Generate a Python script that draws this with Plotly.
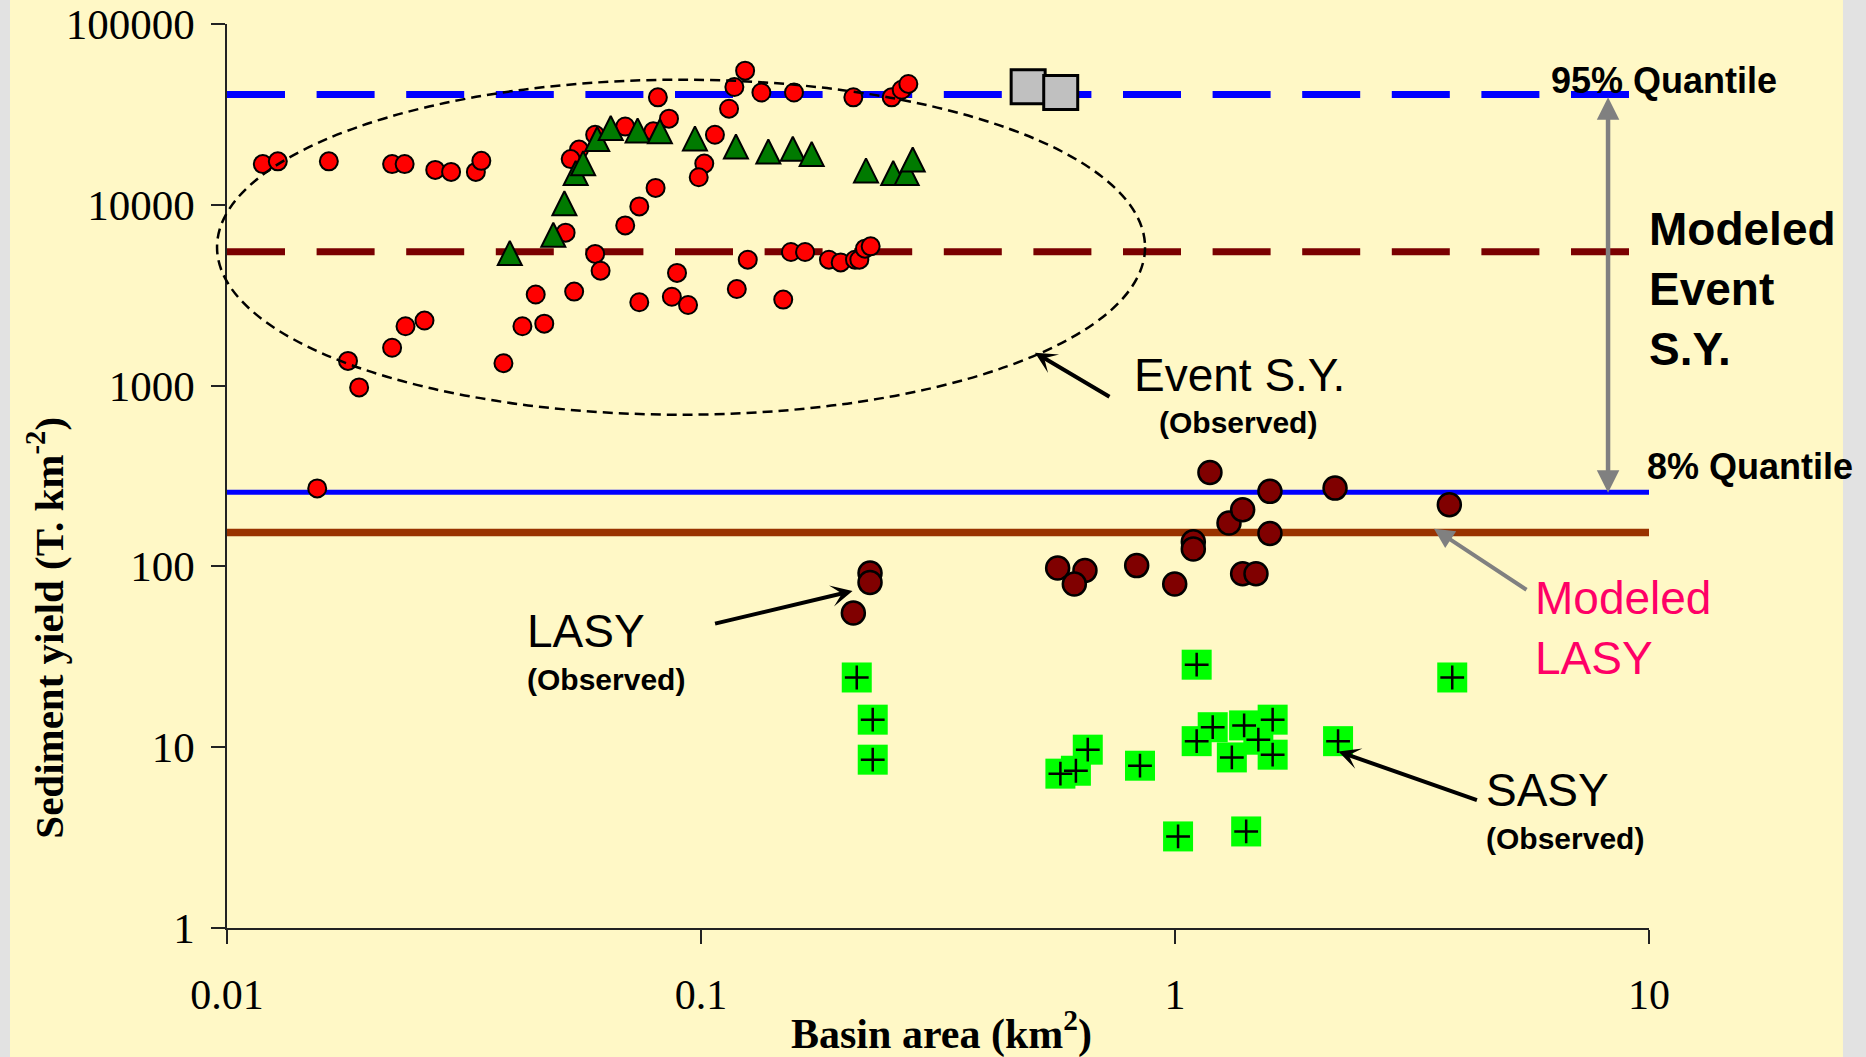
import plotly.graph_objects as go

# ---- Observed event sediment yield (T km-2) against basin area (km2) ----
event_area = [0.0119, 0.0128, 0.0164, 0.0223, 0.0237, 0.0275, 0.0297, 0.0335, 0.0344,
              0.0180, 0.0190, 0.0223, 0.0238, 0.0261, 0.0383, 0.0420, 0.0467, 0.0448,
              0.0155,
              0.0811, 0.0856, 0.0598, 0.0692, 0.0793, 0.0553, 0.0531, 0.1070, 0.1016,
              0.0989, 0.0802, 0.0741, 0.0692, 0.0518, 0.0598, 0.0614, 0.0890, 0.0540,
              0.0741, 0.0868, 0.0939,
              0.1239, 0.1176, 0.1146, 0.1341, 0.1571, 0.2096, 0.2525, 0.2651, 0.2738,
              0.1255, 0.1548, 0.1658, 0.1862, 0.1971, 0.2113, 0.2158, 0.2218, 0.2280,
              0.1190, 0.1491]
event_sy = [16800, 17400, 17400, 16800, 16800, 15600, 15200, 15200, 17500,
            1370, 977, 1620, 2130, 2290, 1330, 2130, 2200, 3190,
            270,
            39300, 29950, 24400, 27100, 25500, 20200, 17900, 24400, 16900,
            14200, 12400, 9800, 7690, 7010, 5350, 4320, 4200, 3310,
            2890, 3100, 2790,
            55200, 44800, 34000, 41800, 41800, 39300, 39300, 43300, 46600,
            4970, 5480, 5480, 4970, 4800, 4970, 4970, 5720, 5890,
            3420, 2990]

# second group of event observations (triangles)
event2_area = [0.0395, 0.0488, 0.0515, 0.0544, 0.0564, 0.0604, 0.0645, 0.0735, 0.0819,
               0.0971, 0.1185, 0.1387, 0.1562, 0.1712, 0.2229, 0.2544, 0.2716, 0.2797]
event2_sy = [5410, 6830, 10200, 15000, 17000, 23100, 26600, 25800, 25500,
             23300, 21000, 19700, 20400, 19100, 15500, 15000, 15000, 17800]

# third group of event observations (grey squares)
event3_area = [0.490, 0.574]
event3_sy = [44900, 41800]

# long-term average sediment yield, observed
lasy_area = [0.2273, 0.2273, 0.2096, 0.5655, 0.6457, 0.6132, 0.8302, 0.9986, 1.185,
             1.093, 1.093, 1.300, 1.389, 1.586, 1.586, 1.389, 1.482, 2.176, 3.791]
lasy_sy = [91.9, 81.5, 55.2, 98.0, 95.0, 79.9, 101, 79.9, 331,
           137, 125, 174, 206, 260, 152, 91.1, 91.1, 271, 219]

# short-term average sediment yield, observed
sasy_area = [0.2131, 0.2303, 0.2303, 1.111, 3.845, 0.5731, 0.6179, 0.6546, 0.8436, 1.111,
             1.201, 1.399, 1.607, 1.318, 1.499, 1.607, 2.208, 1.015, 1.413]
sasy_sy = [24.3, 14.2, 8.53, 28.6, 24.3, 7.14, 7.41, 9.69, 7.90, 10.8,
           12.9, 13.2, 14.2, 8.78, 11.0, 9.09, 10.8, 3.21, 3.42]

# modelled reference levels
q95_event = 40700      # 95% quantile of modelled event S.Y.
median_event = 5500    # central modelled event S.Y.
q08_event = 257        # 8% quantile of modelled event S.Y.
modeled_lasy = 154     # modelled LASY
area_span = [0.01, 10]

x_ticks = [0.01, 0.1, 1, 10]
x_ticktext = ["0.01", "0.1", "1", "10"]
y_ticks = [1, 10, 100, 1000, 10000, 100000]
y_ticktext = ["1", "10", "100", "1000", "10000", "100000"]

BG = "#FFF8C6"
SERIF = "Liberation Serif"
SANS = "Liberation Sans"

fig = go.Figure()


def hline(level, color, width, dash="solid"):
    fig.add_trace(go.Scatter(x=area_span, y=[level, level], mode="lines",
                             line=dict(color=color, width=width, dash=dash),
                             hoverinfo="skip"))


hline(q95_event, "#0000FF", 7, "58px,31.6px")
hline(median_event, "#7A0000", 7, "58px,31.6px")
hline(q08_event, "#0000FF", 5)
hline(modeled_lasy, "#993300", 7.5)

fig.add_trace(go.Scatter(x=event_area, y=event_sy, mode="markers",
                         marker=dict(symbol="circle", size=18, color="#FF0000",
                                     line=dict(color="black", width=2))))
fig.add_trace(go.Scatter(x=event2_area, y=event2_sy, mode="markers",
                         marker=dict(symbol="arrow-down", angle=180, standoff=12, size=24,
                                     color="#007A00", line=dict(color="black", width=2))))
fig.add_trace(go.Scatter(x=event3_area, y=event3_sy, mode="markers",
                         marker=dict(symbol="square", size=34, color="#C0C0C0",
                                     line=dict(color="black", width=3))))
fig.add_trace(go.Scatter(x=lasy_area, y=lasy_sy, mode="markers",
                         marker=dict(symbol="circle", size=23, color="#800000",
                                     line=dict(color="black", width=2.5))))
fig.add_trace(go.Scatter(x=sasy_area, y=sasy_sy, mode="markers",
                         marker=dict(symbol="square", size=30, color="#00FF00",
                                     line=dict(width=0))))
fig.add_trace(go.Scatter(x=sasy_area, y=sasy_sy, mode="markers",
                         marker=dict(symbol="cross-thin", size=17, color="black",
                                     line=dict(color="black", width=2.5))))

annotations = []


def label(text, x, y, size, color="black", bold=False, xanchor="left", yanchor="middle"):
    t = f"<b>{text}</b>" if bold else text
    annotations.append(dict(text=t, x=x, y=y, xref="paper", yref="paper",
                            xanchor=xanchor, yanchor=yanchor, showarrow=False, align="left",
                            font=dict(family=SANS, size=size, color=color)))


def arrow(x, y, ax, ay, color, width, head, size=1.0, both=False):
    annotations.append(dict(text="", x=x, y=y, xref="paper", yref="paper",
                            ax=ax, ay=ay, axref="pixel", ayref="pixel", showarrow=True,
                            arrowhead=head, startarrowhead=head, arrowsize=size,
                            startarrowsize=size, arrowwidth=width, arrowcolor=color,
                            arrowside="end+start" if both else "end"))


label("95% Quantile", 0.9294, 0.9373, 36, bold=True)
label("8% Quantile", 0.9972, 0.5108, 36, bold=True)
label("Modeled<br>Event<br>S.Y.", 0.9986, 0.7069, 46, bold=True)
label("Event S.Y.", 0.6364, 0.6121, 46)
label("(Observed)", 0.654, 0.5595, 30, bold=True)
label("LASY", 0.2096, 0.3289, 46)
label("(Observed)", 0.2096, 0.2747, 30, bold=True)
label("SASY", 0.884, 0.153, 46)
label("(Observed)", 0.884, 0.0988, 30, bold=True)
label("Modeled<br>LASY", 0.9184, 0.3316, 46, color="#FF0066")

arrow(0.5682, 0.6364, 76, 45, "black", 4, 3, 0.9)
arrow(0.4399, 0.3728, -139, 33, "black", 4, 3, 0.9)
arrow(0.7816, 0.1952, 140, 49, "black", 4, 3, 0.9)
arrow(0.8488, 0.4417, 94, 62, "#808080", 4, 2, 1.0)
arrow(0.9712, 0.919, 0, 397, "#808080", 4.5, 2, 1.0, both=True)

# axis titles
annotations.append(dict(text="<b>Sediment yield (T. km<sup>-2</sup>)</b>", textangle=-90,
                        x=-0.128, y=0.3322, xref="paper", yref="paper",
                        xanchor="center", yanchor="middle", showarrow=False,
                        font=dict(family=SERIF, size=41, color="black")))
annotations.append(dict(text="<b>Basin area (km<sup>2</sup>)</b>",
                        x=0.5025, y=-0.1135, xref="paper", yref="paper",
                        xanchor="center", yanchor="middle", showarrow=False,
                        font=dict(family=SERIF, size=42, color="black")))

shapes = [
    # dashed outline around the event observations
    dict(type="circle", xref="paper", yref="paper", x0=-0.007, x1=0.6456,
         y0=0.5678, y1=0.9384, line=dict(color="black", width=2.5, dash="10px,6px"),
         layer="above"),
    # slide border strips
    dict(type="rect", xref="paper", yref="paper", x0=-0.17, x1=-0.1526, y0=-0.2, y1=1.1,
         fillcolor="#E2E2E2", line=dict(width=0), layer="below"),
    dict(type="rect", xref="paper", yref="paper", x0=1.1364, x1=1.17, y0=-0.2, y1=1.1,
         fillcolor="#E2E2E2", line=dict(width=0), layer="below"),
]

axis_common = dict(type="log", showgrid=False, zeroline=False, showline=True,
                   automargin=False,
                   linecolor="#222222", linewidth=1.5, ticks="outside", ticklen=14,
                   tickwidth=1.5, tickcolor="#222222")

fig.update_layout(
    width=1866, height=1057,
    margin=dict(l=227, r=217, t=24, b=129),
    paper_bgcolor=BG, plot_bgcolor=BG,
    showlegend=False,
    xaxis=dict(range=[-2, 1], tickvals=x_ticks, ticktext=x_ticktext,
               ticklabelstandoff=15,
               tickfont=dict(family=SERIF, size=42, color="black"), **axis_common),
    yaxis=dict(range=[0, 5], tickvals=y_ticks, ticktext=y_ticktext,
               ticklabelstandoff=8,
               tickfont=dict(family=SERIF, size=43, color="black"), **axis_common),
    annotations=annotations,
    shapes=shapes,
)

fig.write_html("out.html")
